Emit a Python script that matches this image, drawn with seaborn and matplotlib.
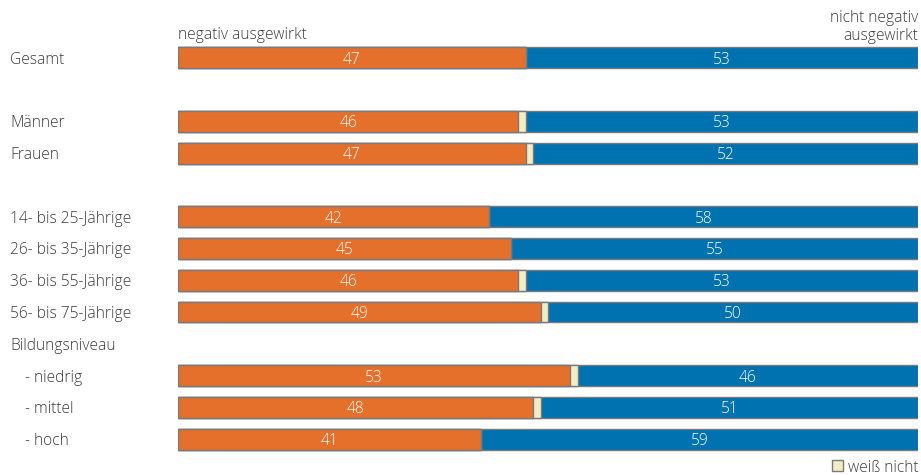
import pandas as pd
import numpy as np
import matplotlib.pyplot as plt
import seaborn as sns

# --- data ---
labels = ['Gesamt', 'Männer', 'Frauen', '14- bis 25-Jährige', '26- bis 35-Jährige',
          '36- bis 55-Jährige', '56- bis 75-Jährige', '- niedrig', '- mittel', '- hoch']
rows = [0, 2, 3, 5, 6, 7, 8, 10, 11, 12]
indent = [0, 0, 0, 0, 0, 0, 0, 1, 1, 1]
negativ = [47, 46, 47, 42, 45, 46, 49, 53, 48, 41]
weiss_nicht = [0, 1, 1, 0, 0, 1, 1, 1, 1, 0]
nicht_negativ = [53, 53, 52, 58, 55, 53, 50, 46, 51, 59]

df = pd.DataFrame({'label': labels, 'row': rows, 'neg': negativ,
                   'wn': weiss_nicht, 'nneg': nicht_negativ})
df['cum_wn'] = df['neg'] + df['wn']
df['total'] = df['cum_wn'] + df['nneg']

c_orange = '#E4702C'
c_blue = '#0072B0'
c_beige = '#F3EDC6'
c_edge = '#7A7A7A'
c_text = '#3a3a3a'

sns.set_theme(style='white')
plt.rcParams['font.family'] = ['Open Sans', 'DejaVu Sans']

fig = plt.figure(figsize=(9.21, 4.75), dpi=100)
ax = fig.add_axes([178 / 921, 1 - 460 / 475, 740 / 921, 450 / 475])

# stacked bars drawn back to front
kw = dict(data=df, y='row', orient='h', native_scale=True, width=0.66,
          edgecolor=c_edge, linewidth=1, saturation=1, ax=ax)
sns.barplot(x='total', color=c_blue, **kw)
sns.barplot(x='cum_wn', color=c_beige, **kw)
sns.barplot(x='neg', color=c_orange, **kw)

fs = 11.2
for _, r in df.iterrows():
    ax.text(r['neg'] / 2, r['row'], str(r['neg']), color='white', fontsize=fs,
            fontweight='light', ha='center', va='center_baseline')
    ax.text(r['cum_wn'] + r['nneg'] / 2, r['row'], str(r['nneg']), color='white',
            fontsize=fs, fontweight='light', ha='center', va='center_baseline')

ax.set_xlim(0, 100)
ax.set_ylim(12.66, -1.51)
ax.set_xticks([])
ax.set_yticks([])
ax.set_xlabel('')
ax.set_ylabel('')
for s in ax.spines.values():
    s.set_visible(False)

# row labels on the left
for lab, r, ind in zip(labels + ['Bildungsniveau'], rows + [9], indent + [0]):
    x0 = (25 if ind else 10) / 921
    ax.text(x0, ax.transData.transform((0, r))[1] / 475, lab, transform=fig.transFigure,
            ha='left', va='center_baseline', fontsize=fs, fontweight='light', color=c_text)

ax.text(0, -0.8, 'negativ ausgewirkt', ha='left', va='center_baseline', fontsize=fs,
        fontweight='light', color=c_text)
ax.text(100, -0.98, 'nicht negativ\nausgewirkt', ha='right', va='center', fontsize=fs,
        fontweight='light', color=c_text, linespacing=1.2)

# legend for "weiß nicht"
fig.patches.append(plt.Rectangle((832 / 921, 1 - 471 / 475), 11 / 921, 11 / 475,
                                 transform=fig.transFigure, facecolor=c_beige,
                                 edgecolor=c_edge, linewidth=1))
fig.text(918 / 921, 1 - 466 / 475, 'weiß nicht', ha='right', va='center_baseline',
         fontsize=fs, fontweight='light', color=c_text)

plt.savefig('out.png', dpi=100)
